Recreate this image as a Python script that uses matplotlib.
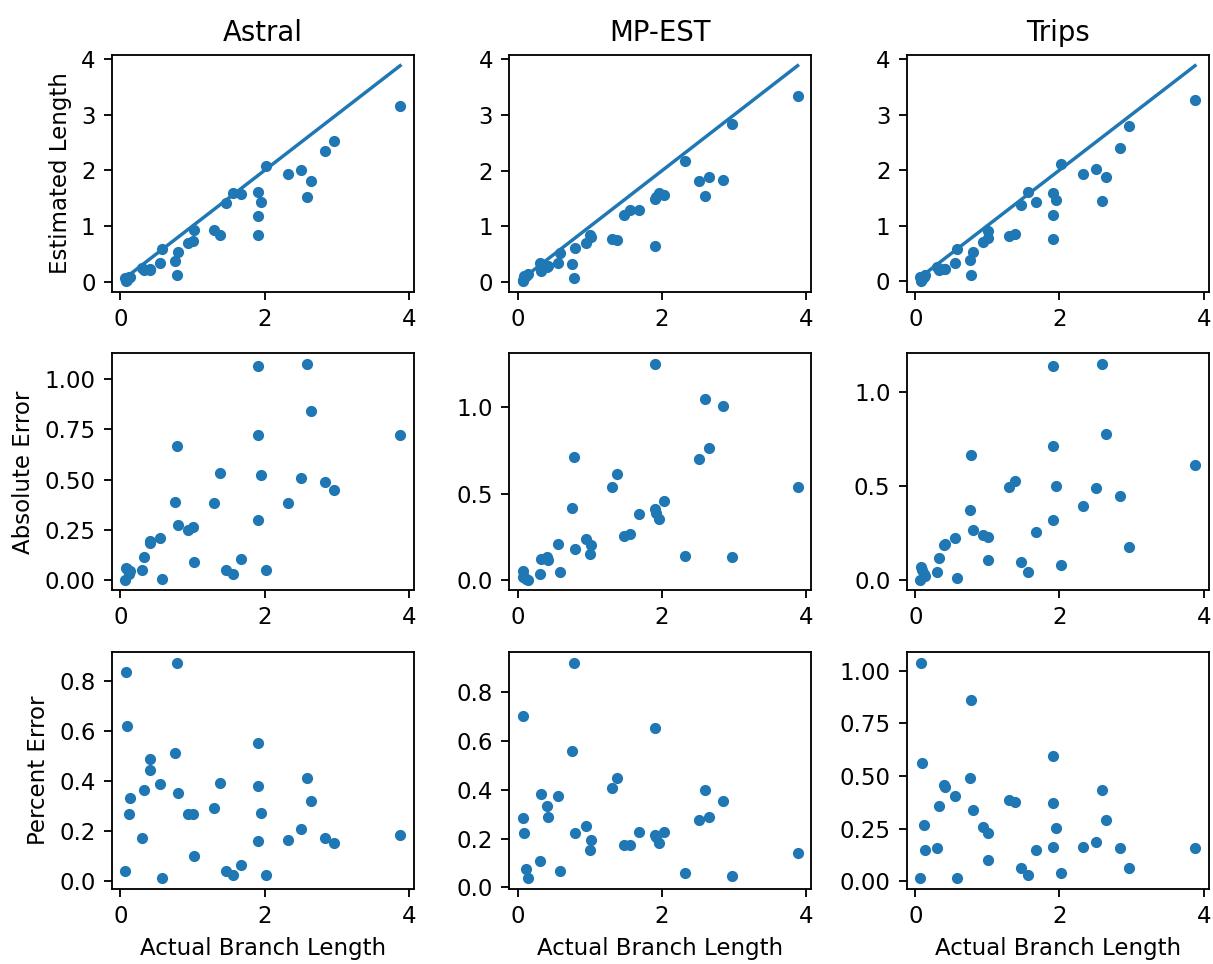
import matplotlib.pyplot as plt

# actual branch lengths (shared by every panel)
actual = [0.069, 0.074, 0.092, 0.115, 0.138, 0.304, 0.323, 0.405, 0.415, 0.553,
          0.58, 0.756, 0.779, 0.80, 0.94, 1.005, 1.015, 1.304, 1.378, 1.47,
          1.562, 1.677, 1.905, 1.908, 1.912, 1.954, 2.023, 2.323, 2.507, 2.594,
          2.645, 2.843, 2.968, 3.88]

methods = ["Astral", "MP-EST", "Trips"]

astral_est = [0.066, 0.012, 0.035, 0.084, 0.092, 0.254, 0.208, 0.208, 0.231, 0.345,
              0.587, 0.366, 0.114, 0.527, 0.692, 0.74, 0.925, 0.922, 0.846, 1.42,
              1.595, 1.57, 0.84, 1.185, 1.614, 1.431, 2.073, 1.941, 2.0, 1.521,
              1.805, 2.353, 2.52, 3.157]
astral_abs = [0.003, 0.062, 0.057, 0.031, 0.046, 0.05, 0.115, 0.197, 0.184, 0.208,
              0.007, 0.39, 0.665, 0.273, 0.248, 0.265, 0.09, 0.382, 0.532, 0.05,
              0.033, 0.107, 1.065, 0.723, 0.298, 0.523, 0.05, 0.382, 0.507, 1.073,
              0.84, 0.49, 0.448, 0.723]
astral_pct = [0.040, 0.833, 0.619, 0.267, 0.332, 0.173, 0.365, 0.487, 0.444, 0.387,
              0.013, 0.512, 0.872, 0.352, 0.267, 0.267, 0.100, 0.292, 0.392, 0.040,
              0.025, 0.065, 0.552, 0.380, 0.160, 0.273, 0.027, 0.165, 0.207, 0.412,
              0.319, 0.172, 0.152, 0.185]

mpest_est = [0.049, 0.022, 0.113, 0.106, 0.143, 0.341, 0.198, 0.268, 0.295, 0.343,
             0.532, 0.336, 0.069, 0.617, 0.702, 0.851, 0.813, 0.767, 0.765, 1.212,
             1.295, 1.294, 0.657, 1.498, 1.522, 1.6, 1.563, 2.181, 1.807, 1.548,
             1.878, 1.835, 2.835, 3.343]
mpest_abs = [0.020, 0.052, 0.021, 0.009, 0.005, 0.037, 0.125, 0.137, 0.12, 0.21,
             0.048, 0.42, 0.71, 0.183, 0.238, 0.154, 0.202, 0.537, 0.613, 0.258,
             0.267, 0.383, 1.248, 0.41, 0.39, 0.355, 0.46, 0.142, 0.70, 1.046,
             0.767, 1.008, 0.133, 0.537]
mpest_pct = [0.285, 0.703, 0.223, 0.075, 0.038, 0.107, 0.381, 0.333, 0.29, 0.373,
             0.066, 0.559, 0.922, 0.223, 0.251, 0.155, 0.196, 0.408, 0.449, 0.172,
             0.175, 0.228, 0.655, 0.215, 0.205, 0.182, 0.227, 0.059, 0.277, 0.40,
             0.29, 0.354, 0.045, 0.139]

trips_est = [0.068, 0.002, 0.04, 0.084, 0.117, 0.261, 0.209, 0.219, 0.225, 0.332,
             0.587, 0.383, 0.111, 0.534, 0.701, 0.775, 0.91, 0.808, 0.853, 1.374,
             1.605, 1.42, 0.764, 1.195, 1.592, 1.456, 2.102, 1.932, 2.018, 1.444,
             1.87, 2.398, 2.791, 3.266]
trips_abs = [0.001, 0.068, 0.052, 0.031, 0.021, 0.043, 0.114, 0.186, 0.19, 0.221,
             0.007, 0.373, 0.668, 0.266, 0.239, 0.23, 0.105, 0.496, 0.525, 0.096,
             0.043, 0.257, 1.141, 0.713, 0.32, 0.498, 0.079, 0.391, 0.489, 1.15,
             0.775, 0.445, 0.177, 0.614]
trips_pct = [0.016, 1.038, 0.562, 0.268, 0.149, 0.157, 0.356, 0.459, 0.45, 0.403,
             0.016, 0.49, 0.863, 0.34, 0.26, 0.229, 0.102, 0.387, 0.379, 0.062,
             0.030, 0.149, 0.594, 0.371, 0.165, 0.252, 0.038, 0.165, 0.189, 0.435,
             0.292, 0.157, 0.062, 0.157]

row_labels = ["Estimated Length", "Absolute Error", "Percent Error"]
x_label = "Actual Branch Length"


def main() -> None:
    dpi = 165
    fig, axes = plt.subplots(3, 3, figsize=(1213 / dpi, 964 / dpi), dpi=dpi)
    fig.subplots_adjust(left=0.092, right=0.9965, top=0.943, bottom=0.078,
                        wspace=0.315, hspace=0.26)

    columns = [
        (astral_est, astral_abs, astral_pct),
        (mpest_est, mpest_abs, mpest_pct),
        (trips_est, trips_abs, trips_pct),
    ]

    for col, (name, series) in enumerate(zip(methods, columns)):
        for row, values in enumerate(series):
            ax = axes[row, col]
            ax.scatter(actual, values, s=15, color="#1f77b4")
            if row == 0:
                ax.plot(actual, actual, color="#1f77b4")
                ax.set_title(name)
            if col == 0:
                ax.set_ylabel(row_labels[row])
            if row == 2:
                ax.set_xlabel(x_label)

    fig.savefig("out.png", dpi=dpi)
    plt.close(fig)


if __name__ == "__main__":
    main()
